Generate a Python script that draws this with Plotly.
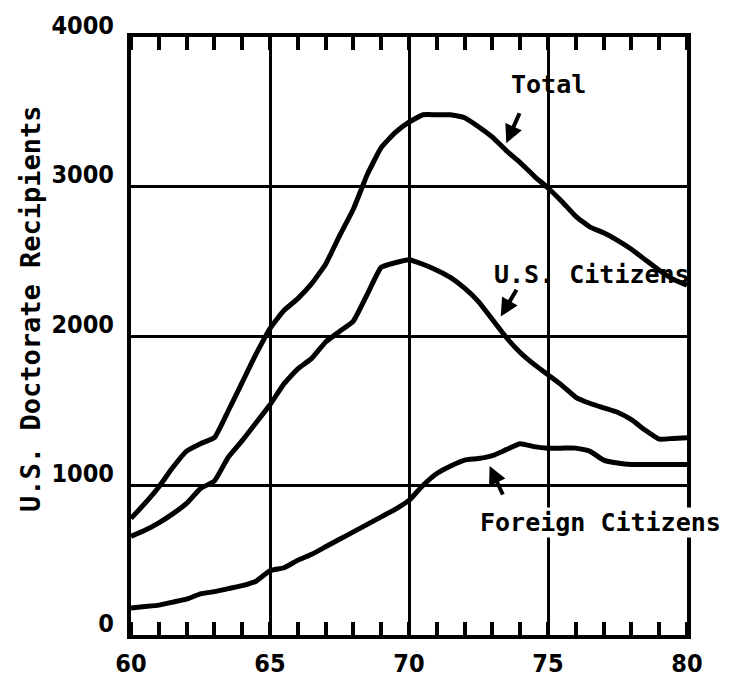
import plotly.graph_objects as go

years = [60, 60.5, 61, 61.5, 62, 62.5, 63, 63.5, 64, 64.5, 65, 65.5, 66, 66.5, 67, 67.5,
         68, 68.5, 69, 69.5, 70, 70.5, 71, 71.5, 72, 72.5, 73, 73.5, 74, 74.5, 75, 75.5,
         76, 76.5, 77, 77.5, 78, 78.5, 79, 79.5, 80]

total = [780, 880, 990, 1120, 1230, 1280, 1320, 1500, 1690, 1880, 2050, 2170, 2250, 2350,
         2480, 2670, 2850, 3080, 3260, 3360, 3430, 3480, 3480, 3480, 3460, 3400, 3330, 3240,
         3160, 3070, 2990, 2900, 2800, 2730, 2690, 2640, 2580, 2510, 2440, 2380, 2340]

us_citizens = [660, 700, 750, 810, 880, 980, 1030, 1190, 1300, 1420, 1540, 1680, 1780, 1850,
               1960, 2030, 2100, 2280, 2460, 2490, 2510, 2480, 2440, 2390, 2320, 2230, 2110,
               1990, 1890, 1810, 1740, 1670, 1590, 1550, 1520, 1490, 1440, 1370, 1310, 1315, 1320]

foreign_citizens = [180, 190, 200, 220, 240, 275, 290, 310, 330, 360, 430, 450, 500, 540, 590,
                    640, 690, 740, 790, 840, 900, 1000, 1080, 1130, 1170, 1180, 1200, 1240, 1280,
                    1260, 1250, 1250, 1250, 1230, 1170, 1150, 1140, 1140, 1140, 1140, 1140]

x_ticks = [60, 65, 70, 75, 80]
y_ticks = [0, 1000, 2000, 3000, 4000]

mono = "DejaVu Sans Mono, Liberation Mono, monospace"
narrow = "Liberation Sans Narrow, DejaVu Sans Condensed, Arial Narrow, sans-serif"

fig = go.Figure()
for name, vals in [("Total", total), ("U.S. Citizens", us_citizens),
                   ("Foreign Citizens", foreign_citizens)]:
    fig.add_trace(go.Scatter(x=years, y=vals, mode="lines", name=name,
                             line=dict(color="black", width=5, shape="spline", smoothing=0.4),
                             showlegend=False))

labels = [
    ("Total", 75.0, 3680, 74.0, 3500, 73.5, 3290, None),
    ("U.S. Citizens", 76.6, 2410, 73.9, 2320, 73.3, 2130, None),
    ("Foreign Citizens", 76.9, 750, 73.4, 930, 72.9, 1130, "white"),
]
for text, tx, ty, axx, ayy, hx, hy, bg in labels:
    fig.add_annotation(x=tx, y=ty, xref="x", yref="y", text=text, showarrow=False,
                       font=dict(family=mono, size=25, color="black", weight="bold"),
                       bgcolor=bg if bg else "rgba(0,0,0,0)", borderpad=0)
    fig.add_annotation(x=hx, y=hy, ax=axx, ay=ayy, xref="x", yref="y", axref="x", ayref="y",
                       text="", showarrow=True, arrowhead=2, arrowsize=0.9, arrowwidth=4,
                       arrowcolor="black")

# y-axis title placed as rotated text to the left of the tick labels
fig.add_annotation(x=-0.182, y=0.545, xref="paper", yref="paper", text="U.S. Doctorate Recipients",
                   textangle=-90, showarrow=False, xanchor="center", yanchor="middle",
                   font=dict(family=mono, size=27, color="black", weight="bold"))

# page body has an 8px margin, so the figure is sized/offset to compensate
fig.update_layout(
    width=732, height=675,
    margin=dict(l=123, r=53, t=29, b=48),
    paper_bgcolor="white", plot_bgcolor="white",
    font=dict(family=narrow, color="black"),
)
fig.update_xaxes(
    range=[60, 80], tickvals=x_ticks, ticks="", showgrid=True, gridcolor="black", gridwidth=3,
    showline=True, linecolor="black", linewidth=4, mirror="allticks", zeroline=False,
    automargin=False,
    tickfont=dict(family=narrow, size=25, color="black", weight="bold"),
    ticklabelstandoff=3,
    minor=dict(dtick=1, tick0=60, ticks="inside", ticklen=13, tickwidth=4, tickcolor="black",
               showgrid=False),
)
fig.update_yaxes(
    range=[0, 4000], tickvals=y_ticks, ticks="", showgrid=True, gridcolor="black", gridwidth=3,
    showline=True, linecolor="black", linewidth=4, mirror=True, zeroline=False,
    automargin=False,
    tickfont=dict(family=narrow, size=25, color="black", weight="bold"),
    ticklabelshift=-12, ticklabelstandoff=8,
)

fig.write_html("out.html")
